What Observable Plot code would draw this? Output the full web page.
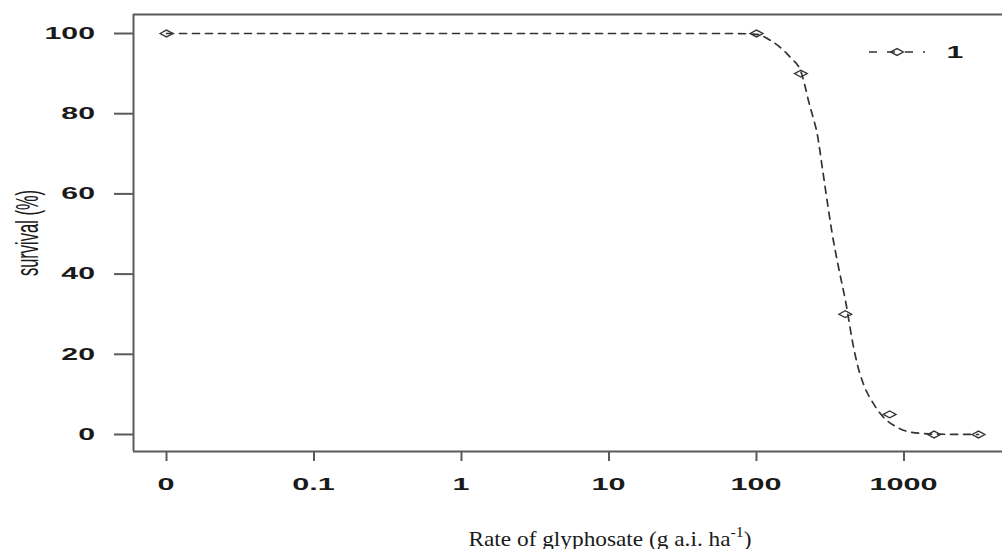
<!DOCTYPE html>
<html>
<head>
<meta charset="utf-8">
<script src="https://cdn.jsdelivr.net/npm/d3@7"></script>
<script src="https://cdn.jsdelivr.net/npm/@observablehq/plot@0.6"></script>
<style>
  html, body { margin: 0; padding: 0; background: #fff; }
  #chart svg { display: block; background: #fff; }
</style>
</head>
<body>
<div id="chart"></div>
<script>
// Observed points (dose 0 is drawn at 0.01 on the log axis)
const doses = [0, 100, 200, 400, 800, 1600, 3200];
const survival = [100, 100, 90, 30, 5, 0, 0];

// Fitted dose-response curve
const curveDose = [0.01, 66.7, 100, 124, 170, 200, 212, 225, 241, 258, 279, 301, 326, 360, 401, 455, 482, 531, 621, 726, 899, 1107, 1600, 3200];
const curveSurv = [100, 100, 99.8, 98.3, 94, 90.5, 87.3, 83.3, 79.3, 75, 66.7, 58.4, 50.1, 41.7, 33.4, 21.8, 17.6, 12.6, 7.7, 4.3, 1.8, 0.6, 0.1, 0];

// Axis ticks
const xTicks = [0.01, 0.1, 1, 10, 100, 1000];
const xTickLabels = ["0", "0.1", "1", "10", "100", "1000"];
const yTicks = [0, 20, 40, 60, 80, 100];
const yTickLabels = ["0", "20", "40", "60", "80", "100"];

const seriesName = "1";
const yLabel = "survival (%)";
const xLabelMain = "Rate of glyphosate (g a.i. ha";
const xLabelSup = "-1";
const xLabelEnd = ")";

const points = doses.map((d, i) => ({dose: d === 0 ? 0.01 : d, s: survival[i]}));
const curve = curveDose.map((d, i) => ({dose: d, s: curveSurv[i]}));

const xDomain = [Math.pow(10, -2.2237), Math.pow(10, 3.668)];
const yDomain = [-4.24, 104.74];

const wideDiamond = {
  draw(context, size) {
    const r = Math.sqrt(size / Math.PI);
    context.moveTo(-r * 1.6, 0);
    context.lineTo(0, -r * 0.85);
    context.lineTo(r * 1.6, 0);
    context.lineTo(0, r * 0.85);
    context.closePath();
  }
};

const ink = "#333";
const frameColor = "#5a5a5a";
const labelFont = "Liberation Sans, Arial, sans-serif";

const chart = Plot.plot({
  width: 1002,
  height: 549,
  marginLeft: 133,
  marginRight: 0,
  marginTop: 14,
  marginBottom: 98,
  style: {background: "#fff", overflow: "visible"},
  x: {
    type: "log",
    domain: xDomain,
    ticks: xTicks,
    tickFormat: () => "",
    tickSize: 10,
    label: null
  },
  y: {
    domain: yDomain,
    ticks: yTicks,
    tickFormat: () => "",
    tickSize: 19,
    label: null
  },
  marks: [
    Plot.ruleX([xDomain[0]], {stroke: frameColor, strokeWidth: 2}),
    Plot.ruleY([yDomain[0], yDomain[1]], {stroke: frameColor, strokeWidth: 2}),
    Plot.line(curve, {x: "dose", y: "s", stroke: ink, strokeWidth: 1.7, strokeDasharray: "7,6", curve: "monotone-x"}),
    Plot.dot(points, {x: "dose", y: "s", symbol: wideDiamond, r: 4, stroke: ink, strokeWidth: 1.3, fill: "none"})
  ]
});

document.getElementById("chart").appendChild(chart);

const svg = d3.select(chart);
const sx = chart.scale("x");
const sy = chart.scale("y");

// Style tick lines
svg.selectAll('g[aria-label^="x-axis"] line, g[aria-label^="y-axis"] line, g[aria-label^="x-axis"] path, g[aria-label^="y-axis"] path')
  .attr("stroke", frameColor).attr("stroke-width", 2);

// Tick labels (wide, bold), positioned through Plot's scales
const tl = svg.append("g")
  .attr("font-family", labelFont)
  .attr("font-size", 17)
  .attr("font-weight", "bold")
  .attr("fill", "#1a1a1a");

yTicks.forEach((v, i) => {
  tl.append("text")
    .attr("transform", `translate(95,${sy.apply(v)}) scale(1.78,1)`)
    .attr("text-anchor", "end")
    .attr("dominant-baseline", "central")
    .text(yTickLabels[i]);
});
xTicks.forEach((v, i) => {
  tl.append("text")
    .attr("transform", `translate(${sx.apply(v)},490) scale(1.8,1)`)
    .attr("text-anchor", "middle")
    .text(xTickLabels[i]);
});

// Y-axis title
svg.append("text")
  .attr("transform", "translate(27,233) scale(1.9,1) rotate(-90)")
  .attr("text-anchor", "middle")
  .attr("dominant-baseline", "central")
  .attr("font-family", labelFont)
  .attr("font-size", 16.5)
  .attr("fill", "#1a1a1a")
  .text(yLabel);

// X-axis title
const xt = svg.append("text")
  .attr("transform", "translate(610,546) scale(1.06,1)")
  .attr("text-anchor", "middle")
  .attr("font-family", "Liberation Serif, Times New Roman, serif")
  .attr("font-size", 22)
  .attr("fill", "#1a1a1a");
xt.append("tspan").text(xLabelMain);
xt.append("tspan").attr("font-size", 15).attr("dy", -9).text(xLabelSup);
xt.append("tspan").attr("dy", 9).text(xLabelEnd);

// Legend
const lg = svg.append("g");
lg.append("line").attr("x1", 869).attr("x2", 925).attr("y1", 52).attr("y2", 52)
  .attr("stroke", ink).attr("stroke-width", 1.7).attr("stroke-dasharray", "8,10");
lg.append("path")
  .attr("d", "M-6.4,0L0,-3.4L6.4,0L0,3.4Z")
  .attr("transform", "translate(897,52)")
  .attr("fill", "none").attr("stroke", ink).attr("stroke-width", 1.3);
lg.append("text")
  .attr("transform", "translate(955,52) scale(1.78,1)")
  .attr("text-anchor", "middle")
  .attr("dominant-baseline", "central")
  .attr("font-family", labelFont)
  .attr("font-size", 17)
  .attr("font-weight", "bold")
  .attr("fill", "#1a1a1a")
  .text(seriesName);
</script>
</body>
</html>
